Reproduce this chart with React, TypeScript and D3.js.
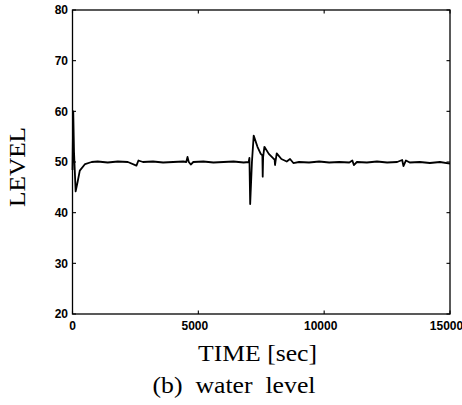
import React from "react";
import * as d3 from "d3";

const timeSec: number[] = [
  0, 30, 60, 125, 200, 290, 500, 760, 1000, 1400, 1800, 2200, 2540, 2620, 2800,
  3200, 3600, 4000, 4400, 4520, 4570, 4620, 4700, 4800, 5200, 5600, 6000, 6400,
  6800, 7000, 7030, 7060, 7130, 7200, 7350, 7480, 7545, 7558, 7575, 7625, 7800,
  7980, 8030, 8048, 8070, 8115, 8300, 8512, 8644, 8776, 9000, 9400, 9800, 10200,
  10600, 11000, 11120, 11180, 11300, 11700, 12100, 12500, 12900, 13100, 13150,
  13250, 13400, 13800, 14200, 14600, 15000,
];
const level: number[] = [
  48.4, 60.0, 52.0, 44.2, 46.0, 48.3, 49.6, 50.0, 50.1, 49.9, 50.1, 50.0, 49.3,
  50.3, 50.0, 50.1, 49.9, 50.0, 50.1, 50.0, 51.0, 50.0, 49.5, 50.0, 50.1, 49.9,
  50.0, 50.1, 49.9, 50.0, 50.8, 41.7, 50.0, 55.2, 53.0, 51.6, 51.3, 47.1, 51.0,
  53.0, 51.6, 50.7, 50.5, 49.4, 50.2, 51.7, 50.6, 50.1, 50.6, 49.8, 50.0, 49.9,
  50.1, 49.9, 50.0, 49.9, 50.3, 49.4, 50.0, 49.9, 50.1, 49.9, 50.0, 50.4, 49.2,
  50.3, 49.9, 50.0, 49.8, 50.0, 49.7,
];
const xTicks: number[] = [0, 5000, 10000, 15000];
const yTicks: number[] = [20, 30, 40, 50, 60, 70, 80];

const W = 462;
const H = 405;
const left = 72.5, right = 450, top = 10, bottom = 314;

export default function App() {
  const x = d3.scaleLinear().domain([0, 15000]).range([left, right]);
  const y = d3.scaleLinear().domain([20, 80]).range([bottom, top]);
  const pts: [number, number][] = timeSec.map((t, i) => [t, level[i]]);
  const line = d3
    .line<[number, number]>()
    .x((d) => x(d[0]))
    .y((d) => y(d[1]));
  const tl = 3.5;
  const tickFont = "'Liberation Sans', Arial, sans-serif";
  const serif = "'Liberation Serif', 'Times New Roman', serif";
  return (
    <svg
      width={W}
      height={H}
      style={{ position: "absolute", left: 0, top: 0, background: "#fff" }}
    >
      <rect x={0} y={0} width={W} height={H} fill="#fff" />
      <path d={line(pts) || ""} fill="none" stroke="#000" strokeWidth={1.8} strokeLinejoin="round" />
      <rect
        x={left}
        y={top}
        width={right - left}
        height={bottom - top}
        fill="none"
        stroke="#000"
        strokeWidth={1.3}
      />
      {yTicks.map((v) => (
        <g key={"y" + v}>
          <line x1={left} x2={left + tl} y1={y(v)} y2={y(v)} stroke="#000" strokeWidth={1.1} />
          <line x1={right} x2={right - tl} y1={y(v)} y2={y(v)} stroke="#000" strokeWidth={1.1} />
          <text
            x={left - 4.5}
            y={y(v)}
            dy="0.36em"
            textAnchor="end"
            fontFamily={tickFont}
            fontWeight="bold"
            fontSize={12}
            fill="#000"
          >
            {v}
          </text>
        </g>
      ))}
      {xTicks.map((v, i) => (
        <g key={"x" + v}>
          <line x1={x(v)} x2={x(v)} y1={bottom} y2={bottom - tl} stroke="#000" strokeWidth={1.1} />
          <line x1={x(v)} x2={x(v)} y1={top} y2={top + tl} stroke="#000" strokeWidth={1.1} />
          <text
            x={x(v) - (i === 0 ? 0 : 3.5)}
            y={329.5}
            textAnchor="middle"
            fontFamily={tickFont}
            fontWeight="bold"
            fontSize={12}
            fill="#000"
          >
            {v}
          </text>
        </g>
      ))}
      <text
        transform="translate(25,167) rotate(-90)"
        textAnchor="middle"
        fontFamily={serif}
        fontSize={24}
        textLength={80}
        lengthAdjust="spacingAndGlyphs"
        fill="#000"
      >
        LEVEL
      </text>
      <text
        x={257.5}
        y={361}
        textAnchor="middle"
        fontFamily={serif}
        fontSize={24}
        textLength={119}
        lengthAdjust="spacingAndGlyphs"
        fill="#000"
      >
        TIME [sec]
      </text>
      <text
        x={234}
        y={393}
        textAnchor="middle"
        fontFamily={serif}
        fontSize={23}
        textLength={163}
        lengthAdjust="spacingAndGlyphs"
        fill="#000"
        style={{ whiteSpace: "pre" }}
      >
        {"(b)  water  level"}
      </text>
    </svg>
  );
}
